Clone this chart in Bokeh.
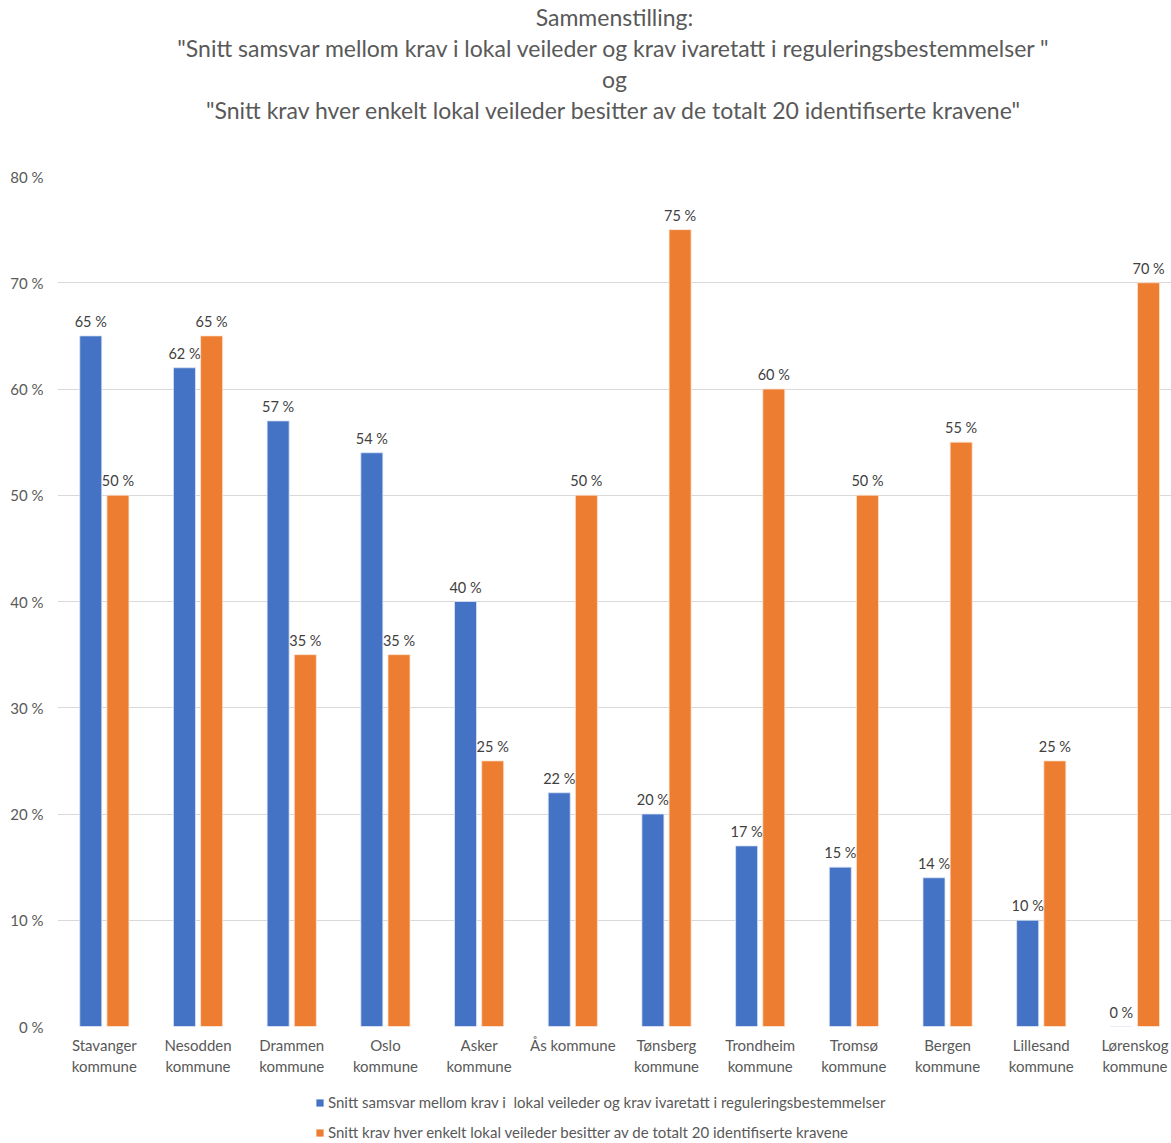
from bokeh.plotting import figure
from bokeh.models import ColumnDataSource, Range1d, FixedTicker, Legend, LegendItem, Title
from bokeh.layouts import column
from bokeh.embed import file_html
from bokeh.resources import INLINE
from bokeh.core.properties import value

categories = ["Stavanger\nkommune", "Nesodden\nkommune", "Drammen\nkommune", "Oslo\nkommune",
              "Asker\nkommune", "Ås kommune", "Tønsberg\nkommune", "Trondheim\nkommune",
              "Tromsø\nkommune", "Bergen\nkommune", "Lillesand\nkommune", "Lørenskog\nkommune"]
samsvar = [65, 62, 57, 54, 40, 22, 20, 17, 15, 14, 10, 0]
krav = [50, 65, 35, 35, 25, 50, 75, 60, 50, 55, 25, 70]
y_ticks = [0, 10, 20, 30, 40, 50, 60, 70, 80]
series_names = ["Snitt samsvar mellom krav i  lokal veileder og krav ivaretatt i reguleringsbestemmelser",
                "Snitt krav hver enkelt lokal veileder besitter av de totalt 20 identifiserte kravene"]
title_lines = ["Sammenstilling:",
               "\"Snitt samsvar mellom krav i lokal veileder og krav ivaretatt i reguleringsbestemmelser \"",
               "og",
               "\"Snitt krav hver enkelt lokal veileder besitter av de totalt 20 identifiserte kravene\""]

FONT = "Lato"
GREY = "#595959"
BLUE = "#4472C4"
ORANGE = "#ED7D31"

n = len(categories)
centers = [i + 0.5 for i in range(n)]
off = 0.145
w = 0.235

src = ColumnDataSource(dict(
    xb=[c - off for c in centers], xo=[c + off for c in centers],
    b=samsvar, o=krav,
    bl=[f"{v} %" for v in samsvar], ol=[f"{v} %" for v in krav],
))

p = figure(frame_width=1114, frame_height=850, output_backend="svg", toolbar_location=None,
           x_range=Range1d(0, 11.89), y_range=Range1d(0, 80),
           min_border_left=57, min_border_right=0, min_border_top=0, min_border_bottom=60,
           outline_line_color=None, background_fill_color="white", border_fill_color="white")

rb = p.vbar(x="xb", top="b", width=w, bottom=0, source=src, fill_color=BLUE, line_color="#DCE4F5", line_width=0.8)
ro = p.vbar(x="xo", top="o", width=w, bottom=0, source=src, fill_color=ORANGE, line_color="#FBE3D2", line_width=0.8)

p.text(x="xb", y="b", text="bl", source=src, text_align="center", text_baseline="bottom",
       y_offset=-6, text_font=value(FONT), text_font_size="14.5px", text_color="#404040")
p.text(x="xo", y="o", text="ol", source=src, text_align="center", text_baseline="bottom",
       y_offset=-6, text_font=value(FONT), text_font_size="14.5px", text_color="#404040")

p.xaxis.ticker = FixedTicker(ticks=centers)
p.xaxis.major_label_overrides = {c: lab for c, lab in zip(centers, categories)}
p.xaxis.axis_line_color = None
p.xaxis.major_tick_line_color = None
p.xaxis.major_tick_out = 0
p.xaxis.major_tick_in = 0
p.xaxis.minor_tick_line_color = None
p.xaxis.minor_tick_out = 0
p.xaxis.major_label_text_font = FONT
p.xaxis.major_label_text_font_size = "15px"
p.xaxis.major_label_text_color = GREY
p.xaxis.major_label_standoff = 9

p.yaxis.ticker = FixedTicker(ticks=y_ticks)
p.yaxis.major_label_overrides = {t: f"{t} %" for t in y_ticks}
p.yaxis.axis_line_color = None
p.yaxis.major_tick_line_color = None
p.yaxis.major_tick_out = 0
p.yaxis.minor_tick_line_color = None
p.yaxis.major_label_text_font = FONT
p.yaxis.major_label_text_font_size = "15px"
p.yaxis.major_label_text_color = GREY
p.yaxis.major_label_standoff = 14

p.xgrid.grid_line_color = None
p.ygrid.grid_line_color = "#D9D9D9"
p.ygrid.grid_line_width = 1

# spacer between the title block and the frame
p.add_layout(Title(text=" ", text_font_size="2px", standoff=48), "above")
# title lines stacked: later-added goes further from the frame
for line in reversed(title_lines):
    t = Title(text=line, align="center", text_font=FONT, text_font_style="normal",
              text_font_size="23px", text_color=GREY, standoff=1)
    p.add_layout(t, "above")

# separate strip below the chart that holds the legend
lg = figure(width=1171, height=56, output_backend="svg", toolbar_location=None,
            x_range=Range1d(0, 1), y_range=Range1d(0, 1), x_axis_type=None, y_axis_type=None,
            min_border=0, outline_line_color=None, background_fill_color="white",
            border_fill_color="white")
lg.xgrid.grid_line_color = None
lg.ygrid.grid_line_color = None
# zero-height swatch renderers (invisible), only used for the legend keys
swatch = ColumnDataSource(dict(x=[0.5], top=[0.0]))
kb = lg.vbar(x="x", top="top", bottom=0, width=0.01, source=swatch, fill_color=BLUE, line_color=None)
ko = lg.vbar(x="x", top="top", bottom=0, width=0.01, source=swatch, fill_color=ORANGE, line_color=None)
legend = Legend(items=[LegendItem(label=series_names[0], renderers=[kb]),
                       LegendItem(label=series_names[1], renderers=[ko])],
                orientation="vertical", location=(258, 0), border_line_color=None,
                label_text_font=FONT, label_text_font_size="15px", label_text_color=GREY,
                glyph_width=9, glyph_height=9, label_standoff=4, spacing=10,
                padding=0, margin=0, label_height=20, background_fill_alpha=0)
lg.add_layout(legend, "center")

open("out.html", "w").write(file_html(column(p, lg, spacing=0), INLINE))
